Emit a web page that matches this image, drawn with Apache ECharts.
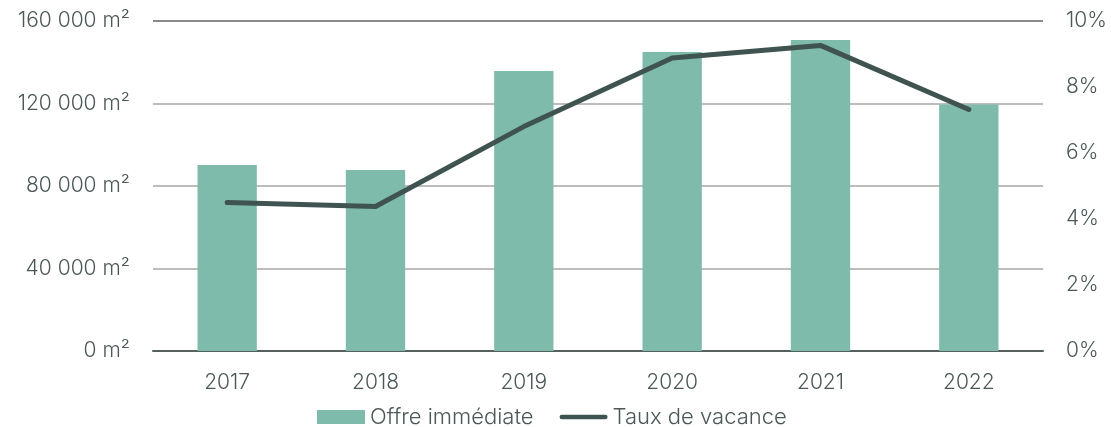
<!DOCTYPE html>
<html><head><meta charset="utf-8">
<script src="https://cdn.jsdelivr.net/npm/echarts@6/dist/echarts.min.js"></script>
<style>html,body{margin:0;padding:0;background:#fff}#c{width:1111px;height:427px}</style>
</head><body><div id="c"></div>
<script>
const categories = ['2017','2018','2019','2020','2021','2022'];
const offre = [90200, 87800, 135800, 145000, 150800, 119500];
const vacance = [4.5, 4.38, 6.8, 8.88, 9.26, 7.32];
const leftTicks = [0, 40000, 80000, 120000, 160000];
const rightTicks = [0, 2, 4, 6, 8, 10];

const txt = '#4b5857';
const font = 'Inter';
const fw = 300;
const fs = 21;
const chart = echarts.init(document.getElementById('c'));
chart.setOption({
  animation: false,
  textStyle: {fontFamily: font, fontWeight: fw},
  grid: {left: 153, right: 68, top: 21, bottom: 76},
  legend: {
    top: 401, left: 312, itemGap: 26, itemWidth: 48, itemHeight: 14,
    textStyle: {color: txt, fontSize: 22, fontFamily: font, fontWeight: fw},
    data: [
      {name: 'Offre immédiate', icon: 'rect'},
      {name: 'Taux de vacance', icon: 'path://M2.5,0 L49.5,0 A2.5,2.5 0 0 1 49.5,5 L2.5,5 A2.5,2.5 0 0 1 2.5,0 Z'}
    ]
  },
  xAxis: {
    type: 'category', data: categories,
    axisLine: {lineStyle: {color: '#55605f', width: 2}},
    axisTick: {show: false},
    axisLabel: {color: txt, fontSize: fs, margin: 21, fontFamily: font, fontWeight: fw}
  },
  yAxis: [{
    type: 'value', min: 0, max: 160000, interval: 40000,
    axisLabel: {color: txt, fontSize: fs, margin: 23, fontFamily: font, fontWeight: fw,
      formatter: v => String(v).replace(/\B(?=(\d{3})+(?!\d))/g, ' ') + ' m²'},
    axisLine: {show: false}, axisTick: {show: false},
    splitLine: {lineStyle: {color: ['#bdbdbd','#bdbdbd','#bdbdbd','#bdbdbd','#8a8a8a'], width: 2}}
  }, {
    type: 'value', min: 0, max: 10, interval: 2,
    axisLabel: {color: txt, fontSize: fs, margin: 23, fontFamily: font, fontWeight: fw, formatter: v => v + '%'},
    axisLine: {show: false}, axisTick: {show: false}, splitLine: {show: false}
  }],
  series: [{
    name: 'Offre immédiate', type: 'bar', data: offre, barWidth: '40%',
    itemStyle: {color: '#7fbbab'}
  }, {
    name: 'Taux de vacance', type: 'line', yAxisIndex: 1, data: vacance,
    symbol: 'none', lineStyle: {color: '#3f5351', width: 5, cap: 'round', join: 'round'},
    itemStyle: {color: '#3f5351'}
  }]
});
</script></body></html>
